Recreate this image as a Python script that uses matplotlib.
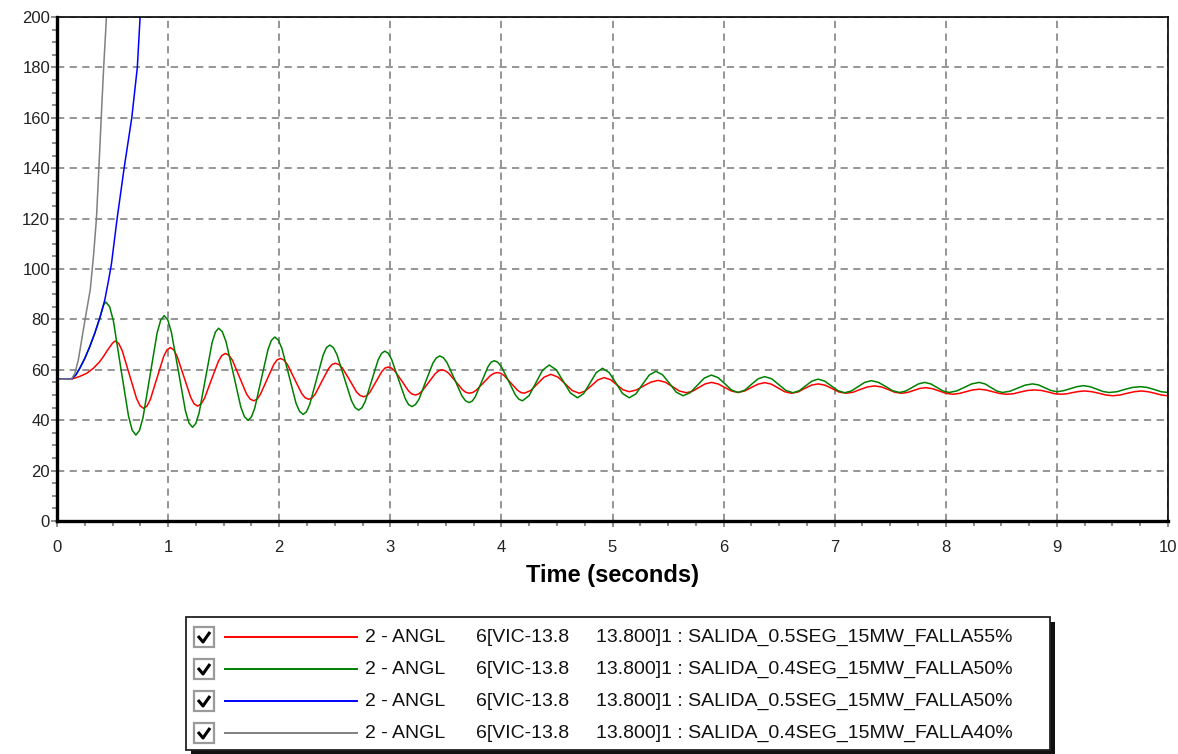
import matplotlib
matplotlib.use("Agg")
import matplotlib.pyplot as plt
from matplotlib.patches import Rectangle
from matplotlib.ticker import MultipleLocator

plt.rcParams['font.family'] = ['Liberation Sans', 'DejaVu Sans']

# red: SALIDA_0.5SEG_15MW_FALLA55%
red_t = [0.0, 0.13, 0.2, 0.267, 0.327, 0.38, 0.417, 0.45, 0.477, 0.50, 0.523,
         0.555, 0.587, 0.652, 0.716, 0.748, 0.78,
         0.81, 0.84, 0.90, 0.96, 0.99, 1.02,
         1.051, 1.081, 1.143, 1.204, 1.234, 1.265,
         1.296, 1.328, 1.39, 1.453, 1.484, 1.515,
         1.547, 1.579, 1.643, 1.706, 1.738, 1.77,
         1.80, 1.83, 1.89, 1.95, 1.98, 2.01,
         2.042, 2.074, 2.138, 2.201, 2.233, 2.265,
         2.295, 2.325, 2.385, 2.445, 2.475, 2.505,
         2.537, 2.569, 2.633, 2.696, 2.728, 2.76,
         2.788, 2.815, 2.87, 2.925, 2.953, 2.98,
         3.011, 3.041, 3.103, 3.164, 3.194, 3.225,
         3.255, 3.285, 3.345, 3.405, 3.435, 3.465,
         3.496, 3.526, 3.588, 3.649, 3.679, 3.71,
         3.742, 3.774, 3.838, 3.901, 3.933, 3.965,
         3.995, 4.025, 4.085, 4.145, 4.175, 4.205,
         4.265, 4.325, 4.385, 4.445, 4.509, 4.573, 4.636, 4.70,
         4.756, 4.813, 4.869, 4.925, 4.981, 5.038, 5.094, 5.15,
         5.215, 5.28, 5.345, 5.41, 5.474, 5.538, 5.601, 5.665,
         5.721, 5.778, 5.834, 5.89, 5.95, 6.01, 6.07, 6.13,
         6.19, 6.25, 6.31, 6.37, 6.43, 6.49, 6.55, 6.61,
         6.67, 6.73, 6.79, 6.85, 6.913, 6.975, 7.038, 7.10,
         7.165, 7.23, 7.295, 7.36, 7.42, 7.48, 7.54, 7.60,
         7.655, 7.71, 7.765, 7.82, 7.88, 7.94, 8.0, 8.06,
         8.12, 8.18, 8.24, 8.30, 8.361, 8.423, 8.484, 8.545,
         8.609, 8.673, 8.736, 8.80, 8.86, 8.92, 8.98, 9.04,
         9.093, 9.145, 9.198, 9.25, 9.314, 9.378, 9.441, 9.505,
         9.569, 9.633, 9.696, 9.76, 9.82, 9.88, 9.94, 10.0]
red_v = [56.3, 56.3, 57.3, 58.6, 60.6, 63.0, 65.2, 67.5, 69.2, 70.6, 71.4,
         70.5, 67.6, 58.1, 48.6, 45.7, 44.7,
         45.6, 48.2, 56.8, 65.3, 67.9, 68.8,
         67.9, 65.4, 57.2, 49.0, 46.5, 45.6,
         46.4, 48.7, 56.1, 63.4, 65.7, 66.5,
         65.8, 63.8, 57.1, 50.4, 48.4, 47.7,
         48.3, 50.2, 56.1, 62.0, 63.9, 64.5,
         63.9, 62.1, 56.4, 50.7, 48.9, 48.3,
         48.8, 50.4, 55.5, 60.5, 62.1, 62.6,
         62.1, 60.7, 56.0, 51.2, 49.8, 49.3,
         49.7, 51.0, 55.2, 59.4, 60.7, 61.1,
         60.7, 59.5, 55.6, 51.6, 50.4, 50.0,
         50.4, 51.5, 55.0, 58.5, 59.6, 60.0,
         59.6, 58.6, 55.4, 52.1, 51.1, 50.7,
         51.0, 51.9, 54.8, 57.7, 58.6, 58.9,
         58.6, 57.7, 54.8, 51.9, 51.0, 50.7,
         51.8, 54.5, 57.1, 58.2, 57.1, 54.5, 51.8, 50.7,
         51.6, 53.8, 56.0, 56.9, 56.1, 54.1, 52.1, 51.3,
         52.0, 53.6, 55.1, 55.8, 55.1, 53.4, 51.6, 50.9,
         51.5, 53.0, 54.4, 55.0, 54.4, 53.0, 51.6, 51.0,
         51.6, 53.0, 54.3, 54.9, 54.3, 52.8, 51.3, 50.7,
         51.2, 52.6, 53.9, 54.4, 53.9, 52.6, 51.2, 50.7,
         51.1, 52.2, 53.2, 53.6, 53.2, 52.2, 51.1, 50.7,
         51.0, 51.8, 52.6, 52.9, 52.5, 51.6, 50.7, 50.3,
         50.6, 51.3, 52.0, 52.3, 52.0, 51.3, 50.6, 50.3,
         50.5, 51.2, 51.8, 52.0, 51.8, 51.2, 50.5, 50.3,
         50.5, 51.0, 51.4, 51.6, 51.3, 50.7, 50.0, 49.7,
         50.0, 50.7, 51.3, 51.6, 51.3, 50.7, 50.0, 49.7]

# green: SALIDA_0.4SEG_15MW_FALLA50%
green_t = [0.0, 0.13, 0.17, 0.205, 0.25, 0.295, 0.34, 0.388, 0.42, 0.44,
           0.474, 0.508, 0.575, 0.643, 0.676, 0.71,
           0.742, 0.774, 0.838, 0.901, 0.933, 0.965,
           0.997, 1.029, 1.093, 1.156, 1.188, 1.22,
           1.249, 1.279, 1.338, 1.396, 1.426, 1.455,
           1.488, 1.521, 1.588, 1.654, 1.687, 1.72,
           1.75, 1.78, 1.84, 1.90, 1.93, 1.96,
           1.992, 2.024, 2.088, 2.151, 2.183, 2.215,
           2.245, 2.275, 2.335, 2.395, 2.425, 2.455,
           2.488, 2.52, 2.585, 2.65, 2.683, 2.715,
           2.744, 2.774, 2.833, 2.891, 2.921, 2.95,
           2.981, 3.011, 3.073, 3.134, 3.164, 3.195,
           3.226, 3.258, 3.32, 3.383, 3.414, 3.445,
           3.478, 3.511, 3.578, 3.644, 3.677, 3.71,
           3.738, 3.766, 3.823, 3.879, 3.907, 3.935,
           3.967, 3.999, 4.063, 4.126, 4.158, 4.19,
           4.25, 4.31, 4.37, 4.43, 4.494, 4.558, 4.621, 4.685,
           4.741, 4.798, 4.854, 4.91, 4.97, 5.03, 5.09, 5.15,
           5.21, 5.27, 5.33, 5.39, 5.451, 5.513, 5.574, 5.635,
           5.699, 5.763, 5.826, 5.89, 5.95, 6.01, 6.07, 6.13,
           6.19, 6.25, 6.31, 6.37, 6.434, 6.498, 6.561, 6.625,
           6.681, 6.738, 6.794, 6.85, 6.91, 6.97, 7.03, 7.09,
           7.15, 7.21, 7.27, 7.33, 7.394, 7.458, 7.521, 7.585,
           7.641, 7.698, 7.754, 7.81, 7.865, 7.92, 7.975, 8.03,
           8.098, 8.165, 8.233, 8.30, 8.353, 8.405, 8.458, 8.51,
           8.578, 8.645, 8.713, 8.78, 8.835, 8.89, 8.945, 9.0,
           9.06, 9.12, 9.18, 9.24, 9.298, 9.355, 9.413, 9.47,
           9.54, 9.61, 9.68, 9.75, 9.813, 9.875, 9.938, 10.0]
green_v = [56.3, 56.3, 58.0, 60.6, 64.5, 69.2, 74.5, 81.0, 85.8, 86.9,
           85.0, 79.3, 60.5, 41.8, 36.1, 34.1,
           35.9, 41.0, 57.8, 74.6, 79.7, 81.5,
           79.8, 75.0, 59.4, 43.7, 38.9, 37.2,
           38.7, 42.9, 56.9, 70.8, 75.0, 76.5,
           75.1, 71.2, 58.3, 45.3, 41.4, 40.0,
           41.3, 44.8, 56.5, 68.2, 71.7, 73.0,
           71.8, 68.5, 57.7, 46.8, 43.5, 42.3,
           43.3, 46.3, 56.1, 65.8, 68.8, 69.8,
           68.8, 66.0, 56.9, 47.8, 45.0, 44.0,
           44.9, 47.4, 55.7, 64.0, 66.5, 67.4,
           66.6, 64.2, 56.4, 48.6, 46.2, 45.4,
           46.2, 48.3, 55.5, 62.6, 64.7, 65.5,
           64.8, 62.8, 56.3, 49.7, 47.7, 47.0,
           47.6, 49.4, 55.3, 61.2, 63.0, 63.6,
           63.0, 61.3, 55.7, 50.0, 48.3, 47.7,
           49.8, 54.8, 59.8, 61.9, 60.0, 55.4, 50.8, 48.9,
           50.6, 54.8, 58.9, 60.6, 58.9, 54.8, 50.6, 48.9,
           50.4, 54.2, 57.9, 59.4, 58.0, 54.6, 51.1, 49.7,
           50.9, 53.8, 56.7, 57.9, 56.9, 54.5, 52.0, 51.0,
           51.9, 54.2, 56.4, 57.3, 56.4, 54.1, 51.8, 50.9,
           51.7, 53.6, 55.5, 56.3, 55.5, 53.6, 51.7, 50.9,
           51.6, 53.3, 55.0, 55.7, 55.0, 53.4, 51.7, 51.0,
           51.6, 53.0, 54.4, 55.0, 54.4, 53.0, 51.6, 51.0,
           51.6, 53.0, 54.4, 55.0, 54.4, 53.0, 51.6, 51.0,
           51.5, 52.7, 53.9, 54.4, 54.0, 52.9, 51.8, 51.3,
           51.7, 52.5, 53.3, 53.7, 53.3, 52.4, 51.4, 51.0,
           51.3, 52.2, 53.0, 53.3, 53.0, 52.2, 51.3, 51.0]

# blue: SALIDA_0.5SEG_15MW_FALLA50%
blue_t = [0.0, 0.13, 0.17, 0.205, 0.25, 0.295, 0.34, 0.388, 0.43, 0.462,
          0.49, 0.541, 0.604, 0.673, 0.723, 0.748]
blue_v = [56.3, 56.3, 58.0, 60.6, 64.5, 69.2, 74.5, 81.0, 87.7, 95.0,
          102.0, 120.0, 140.0, 160.0, 180.0, 200.0]

# gray: SALIDA_0.4SEG_15MW_FALLA40%
gray_t = [0.0, 0.13, 0.16, 0.192, 0.252, 0.30, 0.33, 0.355, 0.377, 0.398, 0.42, 0.445]
gray_v = [56.3, 56.3, 58.5, 63.9, 79.8, 92.0, 106.0, 120.0, 140.0, 160.0, 180.0, 200.0]

legend_ids = ['2 - ANGL'] * 4
legend_bus = ['6[VIC-13.8'] * 4
legend_names = ['13.800]1 : SALIDA_0.5SEG_15MW_FALLA55%',
                '13.800]1 : SALIDA_0.4SEG_15MW_FALLA50%',
                '13.800]1 : SALIDA_0.5SEG_15MW_FALLA50%',
                '13.800]1 : SALIDA_0.4SEG_15MW_FALLA40%']
colors = ['#ff0000', '#008000', '#0000ff', '#808080']

W, H = 1178, 754
fig = plt.figure(figsize=(W / 100, H / 100), dpi=100)
ax = fig.add_axes([57 / W, 1 - 521 / H, (1168 - 57) / W, (521 - 17) / H])

series = [(red_t, red_v), (green_t, green_v), (blue_t, blue_v), (gray_t, gray_v)]
for (t, v), c in zip(series, colors):
    ax.plot(t, v, color=c, lw=1.1)

ax.set_xlim(0, 10)
ax.set_ylim(0, 200)
ax.xaxis.set_major_locator(MultipleLocator(1))
ax.xaxis.set_minor_locator(MultipleLocator(0.25))
ax.yaxis.set_major_locator(MultipleLocator(20))
ax.yaxis.set_minor_locator(MultipleLocator(5))
ax.grid(True, which='major', color='#8c8c8c', ls=(0, (4, 3)), lw=1.3)
ax.set_axisbelow(True)

for s in ['left', 'bottom']:
    ax.spines[s].set_linewidth(2.4)
for s in ['top', 'right']:
    ax.spines[s].set_linewidth(1.2)

ax.tick_params(which='both', direction='out', color='#707070', width=1.1,
               labelsize=12, labelcolor='#222222')
ax.tick_params(which='major', length=4)
ax.tick_params(which='minor', length=3.5)
ax.tick_params(axis='y', pad=1)
ax.tick_params(axis='x', pad=10)
ax.set_xlabel('Time (seconds)', fontsize=17, fontweight='bold', labelpad=6)

# legend box drawn in pixel space
ov = fig.add_axes([0, 0, 1, 1])
ov.set_xlim(0, W)
ov.set_ylim(H, 0)
ov.axis('off')
ov.add_patch(Rectangle((191, 622), 864, 133, facecolor='#111111', edgecolor='none'))
ov.add_patch(Rectangle((186, 617), 864, 133, facecolor='white', edgecolor='#222222', lw=1.3))

row_y = [637, 669, 701, 733]
for y, c, a, b, n in zip(row_y, colors, legend_ids, legend_bus, legend_names):
    ov.add_patch(Rectangle((194, y - 10), 20, 20, facecolor='white',
                           edgecolor='#9a9a9a', lw=1.6))
    ov.plot([198, 203, 210], [y - 1, y + 5, y - 5], color='black', lw=2.2,
            solid_capstyle='butt')
    ov.plot([225, 357], [y, y], color=c, lw=1.4)
    ov.text(365, y, a, fontsize=14, va='center', ha='left', color='#111111')
    ov.text(476, y, b, fontsize=14, va='center', ha='left', color='#111111')
    ov.text(596, y, n, fontsize=14, va='center', ha='left', color='#111111')

fig.savefig('out.png', dpi=100)
